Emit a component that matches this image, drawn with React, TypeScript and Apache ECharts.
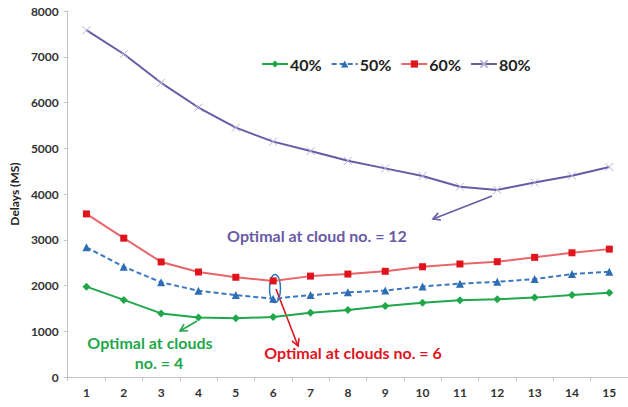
import React, { useEffect, useRef } from "react";
import * as echarts from "echarts";

const categories = ["1", "2", "3", "4", "5", "6", "7", "8", "9", "10", "11", "12", "13", "14", "15"];
const s40 = [1975, 1685, 1390, 1300, 1285, 1310, 1405, 1465, 1550, 1625, 1680, 1700, 1735, 1790, 1840];
const s50 = [2835, 2410, 2070, 1885, 1790, 1710, 1790, 1850, 1890, 1980, 2040, 2080, 2140, 2250, 2300];
const s60 = [3565, 3035, 2515, 2295, 2180, 2100, 2205, 2250, 2310, 2410, 2470, 2520, 2615, 2715, 2795];
const s80 = [7580, 7060, 6430, 5890, 5450, 5145, 4940, 4725, 4560, 4395, 4160, 4090, 4250, 4400, 4590];
const yTicks = { min: 0, max: 8000, interval: 1000 };

const FONT = "Lato, 'Open Sans', sans-serif";
const GREEN = "#1fa74a";
const BLUE = "#2e6db4";
const RED = "#e0141c";
const PURPLE = "#6a5aa6";

function arrow(x1: number, y1: number, x2: number, y2: number, color: string) {
  const ang = Math.atan2(y2 - y1, x2 - x1);
  const L = 8;
  const a = 0.5;
  const p1 = [x2 - L * Math.cos(ang - a), y2 - L * Math.sin(ang - a)];
  const p2 = [x2 - L * Math.cos(ang + a), y2 - L * Math.sin(ang + a)];
  return [
    { type: "line", shape: { x1, y1, x2, y2 }, style: { stroke: color, lineWidth: 1.6 } },
    { type: "polyline", shape: { points: [p1, [x2, y2], p2] }, style: { stroke: color, lineWidth: 1.6, fill: "none" } },
  ];
}

function label(text: string, x: number, y: number, color: string) {
  return {
    type: "text",
    x,
    y,
    style: { text, fill: color, font: `bold 16px ${FONT}`, align: "center", verticalAlign: "middle" },
  };
}

export default function App() {
  const ref = useRef<HTMLDivElement>(null);
  useEffect(() => {
    if (!ref.current) return;
    const chart = echarts.init(ref.current, null, { renderer: "svg" });
    const xSym = "path://M0 0L10 10M10 0L0 10";
    chart.setOption({
      animation: false,
      backgroundColor: "#ffffff",
      grid: { left: 65, width: 565, top: 11, bottom: 30 },
      legend: {
        left: 256,
        top: 51,
        itemWidth: 26,
        itemHeight: 9,
        itemGap: 9,
        textStyle: { fontFamily: FONT, fontWeight: "bold", fontSize: 16, color: "#222", padding: [0, 0, 0, -3] },
        data: ["40%", "50%", "60%", "80%"],
      },
      xAxis: {
        type: "category",
        data: categories,
        boundaryGap: true,
        axisLine: { lineStyle: { color: "#c4c4c4", width: 1 } },
        axisTick: { show: true, length: 4, lineStyle: { color: "#c4c4c4" } },
        axisLabel: { fontFamily: FONT, fontWeight: "bold", fontSize: 12, color: "#333", margin: 9 },
        splitLine: { show: false },
      },
      yAxis: {
        type: "value",
        ...yTicks,
        name: "Delays (MS)",
        nameLocation: "middle",
        nameRotate: 90,
        nameGap: 43,
        nameTextStyle: { fontFamily: FONT, fontWeight: "bold", fontSize: 12, color: "#222" },
        axisLine: { show: true, lineStyle: { color: "#c4c4c4", width: 1 } },
        axisTick: { show: true, length: 4, lineStyle: { color: "#c4c4c4" } },
        axisLabel: {
          fontFamily: FONT,
          fontWeight: "bold",
          fontSize: 12,
          color: "#333",
          margin: 9,
          formatter: (v: number) => String(v),
        },
        splitLine: { show: false },
      },
      series: [
        {
          name: "40%",
          type: "line",
          data: s40,
          symbol: "diamond",
          symbolSize: 8,
          itemStyle: { color: GREEN },
          lineStyle: { color: GREEN, width: 2 },
          z: 4,
        },
        {
          name: "50%",
          type: "line",
          data: s50,
          symbol: "triangle",
          symbolSize: 8,
          itemStyle: { color: BLUE },
          lineStyle: { color: "#3b78c2", width: 2, type: [5, 3] },
          z: 3,
        },
        {
          name: "60%",
          type: "line",
          data: s60,
          symbol: "rect",
          symbolSize: 7,
          itemStyle: { color: RED },
          lineStyle: { color: "#e8656a", width: 2 },
          z: 2,
        },
        {
          name: "80%",
          type: "line",
          data: s80,
          symbol: xSym,
          symbolSize: 8,
          itemStyle: { color: "#b9b0d6", borderColor: "#b9b0d6", borderWidth: 1 },
          lineStyle: { color: PURPLE, width: 2 },
          z: 1,
        },
      ],
      graphic: [
        ...arrow(197, 321, 180, 331, GREEN),
        label("Optimal at clouds", 150, 342, GREEN),
        label("no. = 4", 159, 362, GREEN),
        {
          type: "ellipse",
          shape: { cx: 275, cy: 288.5, rx: 5.5, ry: 14 },
          style: { stroke: "#2f75c0", lineWidth: 1.5, fill: "none" },
        },
        ...arrow(276, 289, 298, 346, RED),
        label("Optimal at clouds no. = 6", 353, 352, RED),
        ...arrow(492, 196, 433, 219, PURPLE),
        label("Optimal at cloud no. = 12", 317, 235, PURPLE),
      ],
    });
    return () => chart.dispose();
  }, []);
  return <div ref={ref} style={{ width: 628, height: 407, position: "absolute", left: 0, top: 0 }} />;
}
